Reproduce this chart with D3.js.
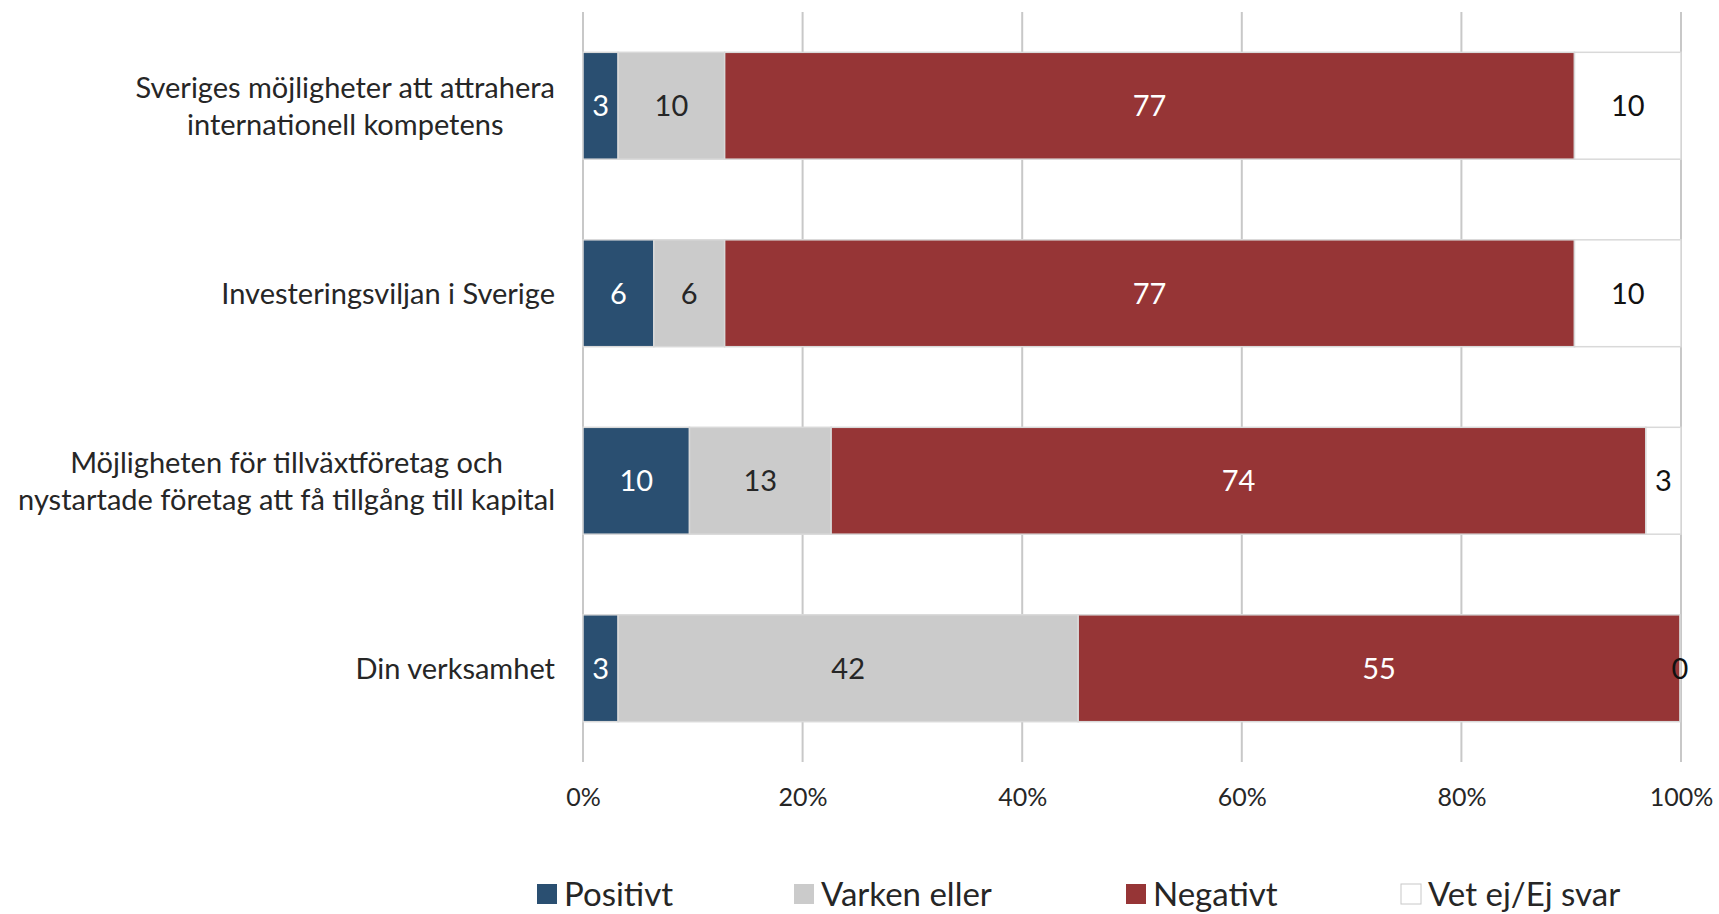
<!DOCTYPE html>
<html>
<head>
<meta charset="utf-8">
<script src="https://cdn.jsdelivr.net/npm/d3@7"></script>
<style>
  body { margin: 0; background: #fff; }
  text { font-family: Lato, "Open Sans", sans-serif; fill: #262626; }
</style>
</head>
<body>
<div id="chart"></div>
<script>
"use strict";

const WIDTH = 1719, HEIGHT = 914;

// categories, top to bottom (label lines)
var categories = [
  ["Sveriges möjligheter att attrahera", "internationell kompetens"],
  ["Investeringsviljan i Sverige"],
  ["Möjligheten för tillväxtföretag och", "nystartade företag att få tillgång till kapital"],
  ["Din verksamhet"]
];
var seriesNames = ["Positivt", "Varken eller", "Negativt", "Vet ej/Ej svar"];
var positivt = [3.2, 6.45, 9.7, 3.2];
var varken   = [9.7, 6.45, 12.9, 41.9];
var negativt = [77.4, 77.4, 74.2, 54.8];
var vetej    = [9.7, 9.7, 3.2, 0];
var tickValues = [0, 20, 40, 60, 80, 100];

var colors = ["#2a4f71", "#cbcbcb", "#963536", "#ffffff"];
var labelColors = ["#ffffff", "#262626", "#ffffff", "#111111"];

var rows = categories.map(function(c, i) {
  return { key: i, Positivt: positivt[i], "Varken eller": varken[i],
           Negativt: negativt[i], "Vet ej/Ej svar": vetej[i] };
});

var svg = d3.select("#chart").append("svg")
  .attr("width", WIDTH)
  .attr("height", HEIGHT);

var xScale = d3.scaleLinear()
  .domain([0, 100])
  .range([583, 1681]);
var yScale = d3.scaleBand()
  .domain(d3.range(categories.length))
  .range([12, 762])
  .paddingInner(0.43)
  .paddingOuter(0.215);

// gridlines
svg.append("g").selectAll("line")
  .data(tickValues)
  .join("line")
  .attr("x1", function(d) { return xScale(d); })
  .attr("x2", function(d) { return xScale(d); })
  .attr("y1", 12)
  .attr("y2", 762)
  .attr("stroke", "#c8c8c8")
  .attr("stroke-width", 2);

// x axis labels
var xAxis = d3.axisBottom(xScale)
  .tickValues(tickValues)
  .tickFormat(function(d) { return d + "%"; })
  .tickSize(0)
  .tickPadding(0);
var ax = svg.append("g")
  .attr("transform", "translate(0,788)")
  .call(xAxis);
ax.select(".domain").remove();
ax.selectAll("text")
  .style("font-family", "Lato, sans-serif")
  .style("font-size", "25px")
  .attr("fill", "#262626");

// stacked bars
var stack = d3.stack().keys(seriesNames);
var layers = stack(rows);

var layerG = svg.append("g").selectAll("g")
  .data(layers)
  .join("g")
  .attr("fill", function(d, i) { return colors[i]; });

layerG.selectAll("rect")
  .data(function(d) { return d; })
  .join("rect")
  .attr("x", function(d) { return xScale(d[0]); })
  .attr("y", function(d) { return yScale(d.data.key); })
  .attr("width", function(d) { return xScale(d[1]) - xScale(d[0]); })
  .attr("height", yScale.bandwidth())
  .attr("stroke", "#d9d9d9")
  .attr("stroke-width", 1.5);

// value labels
layers.forEach(function(layer, li) {
  svg.append("g").selectAll("text")
    .data(layer)
    .join("text")
    .attr("x", function(d) { return (xScale(d[0]) + xScale(d[1])) / 2; })
    .attr("y", function(d) { return yScale(d.data.key) + yScale.bandwidth() / 2; })
    .attr("dy", "0.36em")
    .attr("text-anchor", "middle")
    .style("font-size", "29px")
    .style("fill", labelColors[li])
    .text(function(d) { return Math.round(d[1] - d[0]); });
});

// category labels: lines centred on each other, block right-aligned at x=555
var catG = svg.append("g").selectAll("g")
  .data(categories)
  .join("g")
  .attr("transform", function(d, i) {
    return "translate(555," + (yScale(i) + yScale.bandwidth() / 2) + ")";
  });
catG.each(function(lines) {
  var g = d3.select(this);
  var texts = g.selectAll("text")
    .data(lines)
    .join("text")
    .attr("text-anchor", "middle")
    .attr("y", function(d, i) { return (i - (lines.length - 1) / 2) * 37; })
    .attr("dy", "0.36em")
    .style("font-size", "29px")
    .text(function(d) { return d; });
  var maxW = d3.max(texts.nodes(), function(n) { return n.getComputedTextLength(); });
  texts.attr("x", -maxW / 2);
});

// legend
var legendX = [537, 794, 1126, 1401];
var legend = svg.append("g").selectAll("g")
  .data(seriesNames)
  .join("g")
  .attr("transform", function(d, i) { return "translate(" + legendX[i] + ",884)"; });
legend.append("rect")
  .attr("width", 20)
  .attr("height", 20)
  .attr("fill", function(d, i) { return colors[i]; })
  .attr("stroke", function(d, i) { return i === 3 ? "#c8c8c8" : "none"; });
legend.append("text")
  .attr("x", 27)
  .attr("y", 10)
  .attr("dy", "0.36em")
  .style("font-size", "33px")
  .text(function(d) { return d; });
</script>
</body>
</html>
